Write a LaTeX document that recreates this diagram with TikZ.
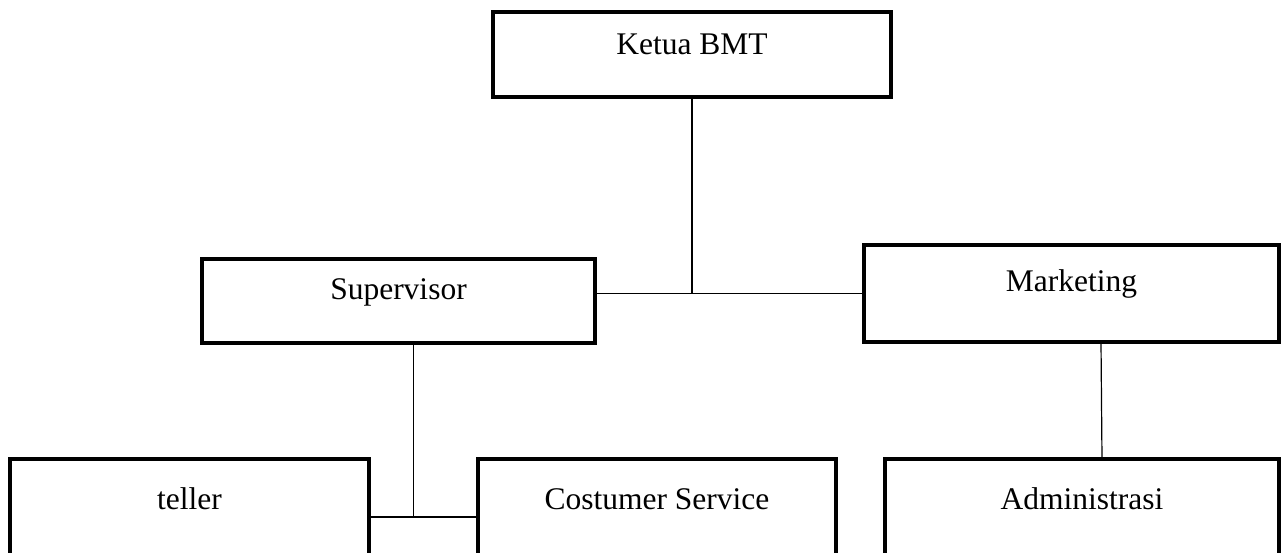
\documentclass[tikz,border=0pt]{standalone}
\usepackage{fontspec}
\setmainfont{Liberation Serif}
\usetikzlibrary{positioning, calc}

\begin{document}
\begin{tikzpicture}[
  x=1pt, y=-1pt,
  node distance=100pt,
  unit/.style={rectangle, draw, line width=3.2pt, inner sep=0pt, outer sep=0pt,
    align=center, font=\fontsize{31.5}{38}\selectfont},
  topbox/.style={unit, minimum width=398pt, text height=43pt, text depth=42pt},
  midbox/.style={unit, text height=41pt, text depth=43pt},
  lowbox/.style={unit, text height=50pt, text depth=66pt},
  link/.style={line width=1.2pt}
]
\clip (0,0) rectangle (1286,553);

% Top - ketua
\node[topbox] (ketua) at (692,54.5) {Ketua BMT};

% Middle layer
\node[midbox, minimum width=393pt] (supervisor) at (398.5,301) {Supervisor};
\node[midbox, minimum width=415pt, text height=47pt, text depth=50pt,
  right=269pt of supervisor, yshift=7.5pt] (marketing) {Marketing};

% Bottom layer
\node[lowbox, minimum width=359pt] (teller) at (189.5,517) {teller};
\node[lowbox, minimum width=358pt, right=109pt of teller] (cs) {Costumer Service};
\node[lowbox, minimum width=394pt, right=49pt of cs] (admin) {Administrasi};

% Ketua to middle layer
\draw[link] (ketua.south) -- (ketua.south |- marketing.west);
\draw[link] (supervisor.east |- marketing.west) -- (marketing.west);

% Supervisor to teller and CS
\coordinate (tjoin) at ($(teller.east)!0.41!(cs.west)$);
\draw[link] (supervisor.south -| tjoin) -- (tjoin);
\draw[link] (teller.east) -- (cs.west);

% Marketing to administrasi
\draw[link] ([xshift=29.5pt]marketing.south) -- ([xshift=20pt]admin.north);

\end{tikzpicture}
\end{document}
